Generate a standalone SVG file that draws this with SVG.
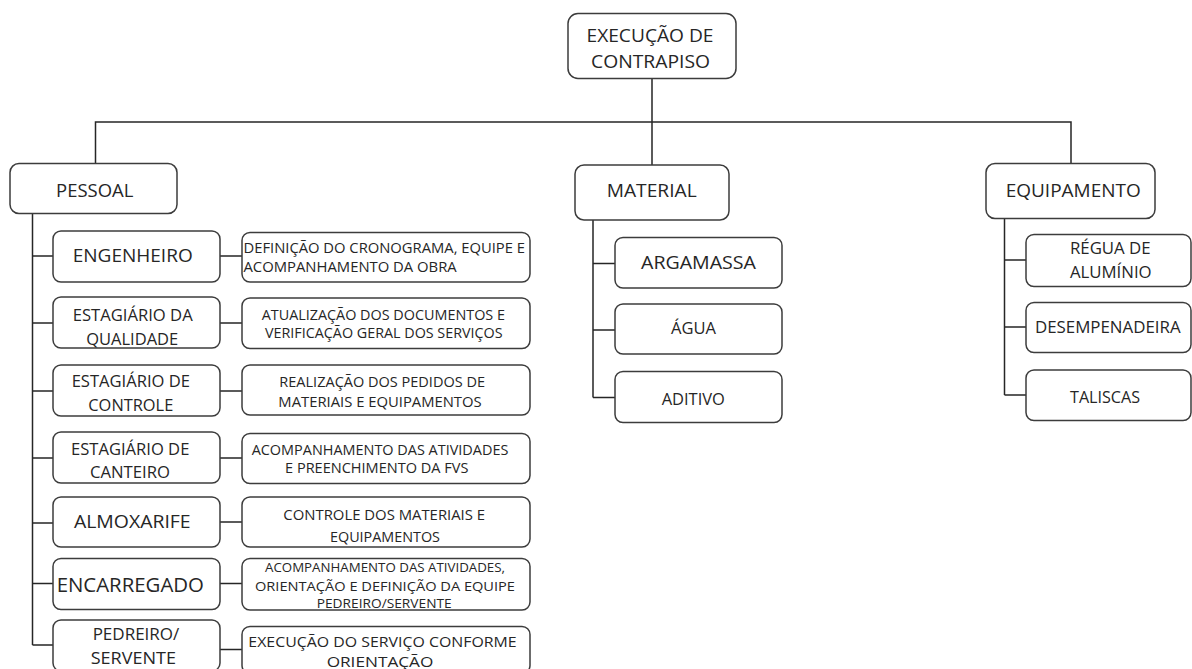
<svg xmlns="http://www.w3.org/2000/svg" width="1192" height="669" viewBox="0 0 1192 669">
  <style>
    .box { fill: #ffffff; stroke: #3c3c3c; stroke-width: 1.5; }
    .wire { fill: none; stroke: #262626; stroke-width: 1.5; }
    text { font-family: "Open Sans", "Noto Sans", "DejaVu Sans", sans-serif; fill: #262626; text-anchor: middle; }
    .l { text-anchor: start; }
    .f19 { font-size: 19px; }
    .f18 { font-size: 18.5px; }
    .f16 { font-size: 16.5px; }
    .f15 { font-size: 14.8px; }
    .f13 { font-size: 13.4px; }
  </style>
  <rect width="1192" height="669" fill="#ffffff"/>

  <!-- connectors -->
  <g id="connectors">
    <path class="wire" d="M652 78 V122 M95.5 163 V122 H1071 V163 M652 122 V165"/>
    <!-- PESSOAL spine -->
    <path class="wire" d="M32.5 213 V645 M32.5 256 H53 M32.5 323 H53 M32.5 391 H53 M32.5 458 H53 M32.5 523 H53 M32.5 583.5 H53 M32.5 645 H53"/>
    <path class="wire" d="M220 256 H242 M220 323 H242 M220 391 H242 M220 458 H242 M220 522 H242 M220 583.5 H242 M220 649.5 H242"/>
    <!-- MATERIAL spine -->
    <path class="wire" d="M593 220 V397.5 M593 263.5 H615 M593 330 H615 M593 397.5 H615"/>
    <!-- EQUIPAMENTO spine -->
    <path class="wire" d="M1004.5 218 V395 M1004.5 260 H1026 M1004.5 327 H1026 M1004.5 395 H1026"/>
  </g>

  <g id="root">
    <rect class="box" x="568" y="13.5" width="168" height="65" rx="10"/>
    <text class="f19" x="650" y="41.7" textLength="127" lengthAdjust="spacingAndGlyphs">EXECUÇÃO DE</text>
    <text class="f19" x="650.5" y="68.3" textLength="119" lengthAdjust="spacingAndGlyphs">CONTRAPISO</text>
  </g>

  <g id="pessoal">
    <rect class="box" x="10" y="163.5" width="167" height="50" rx="9"/>
    <text class="f18" x="94.7" y="196.7" textLength="77.3" lengthAdjust="spacingAndGlyphs">PESSOAL</text>
  </g>
  <g id="material">
    <rect class="box" x="575" y="165" width="154" height="55" rx="9"/>
    <text class="f18" x="651.7" y="196.7" textLength="90" lengthAdjust="spacingAndGlyphs">MATERIAL</text>
  </g>
  <g id="equipamento">
    <rect class="box" x="986" y="163.5" width="169" height="55" rx="9"/>
    <text class="f18" x="1073.2" y="196.7" textLength="135" lengthAdjust="spacingAndGlyphs">EQUIPAMENTO</text>
  </g>

  <!-- people -->
  <g id="engenheiro">
    <rect class="box" x="53" y="231" width="167" height="51" rx="8"/>
    <text class="f19" x="132.7" y="261.7" textLength="120" lengthAdjust="spacingAndGlyphs">ENGENHEIRO</text>
  </g>
  <g id="estagiario-qualidade">
    <rect class="box" x="53" y="297" width="167" height="51" rx="8"/>
    <text class="f16" x="132.7" y="320.5" textLength="120" lengthAdjust="spacingAndGlyphs">ESTAGIÁRIO DA</text>
    <text class="f16" x="132.2" y="344.5" textLength="92" lengthAdjust="spacingAndGlyphs">QUALIDADE</text>
  </g>
  <g id="estagiario-controle">
    <rect class="box" x="53" y="365" width="167" height="51" rx="8"/>
    <text class="f16" x="130.8" y="386.7" textLength="118.3" lengthAdjust="spacingAndGlyphs">ESTAGIÁRIO DE</text>
    <text class="f16" x="130.8" y="410.7" textLength="85" lengthAdjust="spacingAndGlyphs">CONTROLE</text>
  </g>
  <g id="estagiario-canteiro">
    <rect class="box" x="53" y="432" width="167" height="51" rx="8"/>
    <text class="f16" x="130.2" y="455" textLength="118.3" lengthAdjust="spacingAndGlyphs">ESTAGIÁRIO DE</text>
    <text class="f16" x="130" y="478.3" textLength="80" lengthAdjust="spacingAndGlyphs">CANTEIRO</text>
  </g>
  <g id="almoxarife">
    <rect class="box" x="53" y="497" width="167" height="50" rx="8"/>
    <text class="f19" x="132.3" y="528.3" textLength="116.7" lengthAdjust="spacingAndGlyphs">ALMOXARIFE</text>
  </g>
  <g id="encarregado">
    <rect class="box" x="53" y="558.5" width="167" height="51" rx="8"/>
    <text class="f19" x="130.3" y="591.8" textLength="147.3" lengthAdjust="spacingAndGlyphs" style="font-size:20.5px">ENCARREGADO</text>
  </g>
  <g id="pedreiro-servente">
    <rect class="box" x="53" y="620" width="167" height="51" rx="8"/>
    <text class="f16" x="136" y="639.5" textLength="86.7" lengthAdjust="spacingAndGlyphs">PEDREIRO/</text>
    <text class="f16" x="133.3" y="663.5" textLength="85.3" lengthAdjust="spacingAndGlyphs">SERVENTE</text>
  </g>

  <!-- duties -->
  <g id="desc-engenheiro">
    <rect class="box" x="242" y="232.5" width="288" height="49.5" rx="8"/>
    <text class="f15 l" x="243.5" y="252.7" textLength="281.5" lengthAdjust="spacingAndGlyphs">DEFINIÇÃO DO CRONOGRAMA, EQUIPE E</text>
    <text class="f15 l" x="243.5" y="271.7" textLength="213.2" lengthAdjust="spacingAndGlyphs">ACOMPANHAMENTO DA OBRA</text>
  </g>
  <g id="desc-qualidade">
    <rect class="box" x="242" y="298" width="288" height="50.5" rx="8"/>
    <text class="f15" x="383.3" y="320" textLength="243.3" lengthAdjust="spacingAndGlyphs">ATUALIZAÇÃO DOS DOCUMENTOS E</text>
    <text class="f15" x="383.8" y="338.3" textLength="237.7" lengthAdjust="spacingAndGlyphs">VERIFICAÇÃO GERAL DOS SERVIÇOS</text>
  </g>
  <g id="desc-controle">
    <rect class="box" x="242" y="365" width="288" height="50" rx="8"/>
    <text class="f15" x="382.2" y="386.7" textLength="205.7" lengthAdjust="spacingAndGlyphs">REALIZAÇÃO DOS PEDIDOS DE</text>
    <text class="f15" x="380" y="406.7" textLength="203.3" lengthAdjust="spacingAndGlyphs">MATERIAIS E EQUIPAMENTOS</text>
  </g>
  <g id="desc-canteiro">
    <rect class="box" x="242" y="433.5" width="288" height="50" rx="8"/>
    <text class="f15" x="380" y="455" textLength="256.7" lengthAdjust="spacingAndGlyphs">ACOMPANHAMENTO DAS ATIVIDADES</text>
    <text class="f15" x="376.7" y="473.3" textLength="183.3" lengthAdjust="spacingAndGlyphs">E PREENCHIMENTO DA FVS</text>
  </g>
  <g id="desc-almoxarife">
    <rect class="box" x="242" y="497" width="288" height="50" rx="8"/>
    <text class="f15" x="384.2" y="520" textLength="201.7" lengthAdjust="spacingAndGlyphs">CONTROLE DOS MATERIAIS E</text>
    <text class="f15" x="385" y="541.5" textLength="110" lengthAdjust="spacingAndGlyphs">EQUIPAMENTOS</text>
  </g>
  <g id="desc-encarregado">
    <rect class="box" x="242" y="558.5" width="288" height="51.5" rx="8"/>
    <text class="f13" x="385" y="571.7" textLength="240" lengthAdjust="spacingAndGlyphs">ACOMPANHAMENTO DAS ATIVIDADES,</text>
    <text class="f13" x="385" y="590.7" textLength="260" lengthAdjust="spacingAndGlyphs">ORIENTAÇÃO E DEFINIÇÃO DA EQUIPE</text>
    <text class="f13" x="384.2" y="607.5" textLength="135" lengthAdjust="spacingAndGlyphs">PEDREIRO/SERVENTE</text>
  </g>
  <g id="desc-pedreiro">
    <rect class="box" x="242" y="626.5" width="288" height="47" rx="8"/>
    <text class="f15" x="382.5" y="646.7" textLength="268.3" lengthAdjust="spacingAndGlyphs">EXECUÇÃO DO SERVIÇO CONFORME</text>
    <text class="f15" x="380" y="666.7" textLength="106.7" lengthAdjust="spacingAndGlyphs">ORIENTAÇÃO</text>
  </g>

  <!-- materials -->
  <g id="argamassa">
    <rect class="box" x="615" y="237.5" width="167" height="50.5" rx="8"/>
    <text class="f19" x="698.5" y="269" textLength="115" lengthAdjust="spacingAndGlyphs">ARGAMASSA</text>
  </g>
  <g id="agua">
    <rect class="box" x="615" y="304" width="167" height="50" rx="8"/>
    <text class="f16" x="693.5" y="334" textLength="45" lengthAdjust="spacingAndGlyphs">ÁGUA</text>
  </g>
  <g id="aditivo">
    <rect class="box" x="615" y="371.5" width="167" height="51" rx="8"/>
    <text class="f16" x="693.3" y="405" textLength="63.3" lengthAdjust="spacingAndGlyphs">ADITIVO</text>
  </g>

  <!-- equipment -->
  <g id="regua">
    <rect class="box" x="1026" y="234.5" width="165" height="52" rx="8"/>
    <text class="f16" x="1110.3" y="254" textLength="80.7" lengthAdjust="spacingAndGlyphs">RÉGUA DE</text>
    <text class="f16" x="1110.8" y="278.3" textLength="81.7" lengthAdjust="spacingAndGlyphs">ALUMÍNIO</text>
  </g>
  <g id="desempenadeira">
    <rect class="box" x="1026" y="302.5" width="165" height="50" rx="8"/>
    <text class="f16" x="1107.8" y="332.7" textLength="145.7" lengthAdjust="spacingAndGlyphs">DESEMPENADEIRA</text>
  </g>
  <g id="taliscas">
    <rect class="box" x="1026" y="370" width="165" height="50.5" rx="8"/>
    <text class="f16" x="1105" y="402.7" textLength="70" lengthAdjust="spacingAndGlyphs">TALISCAS</text>
  </g>
</svg>
